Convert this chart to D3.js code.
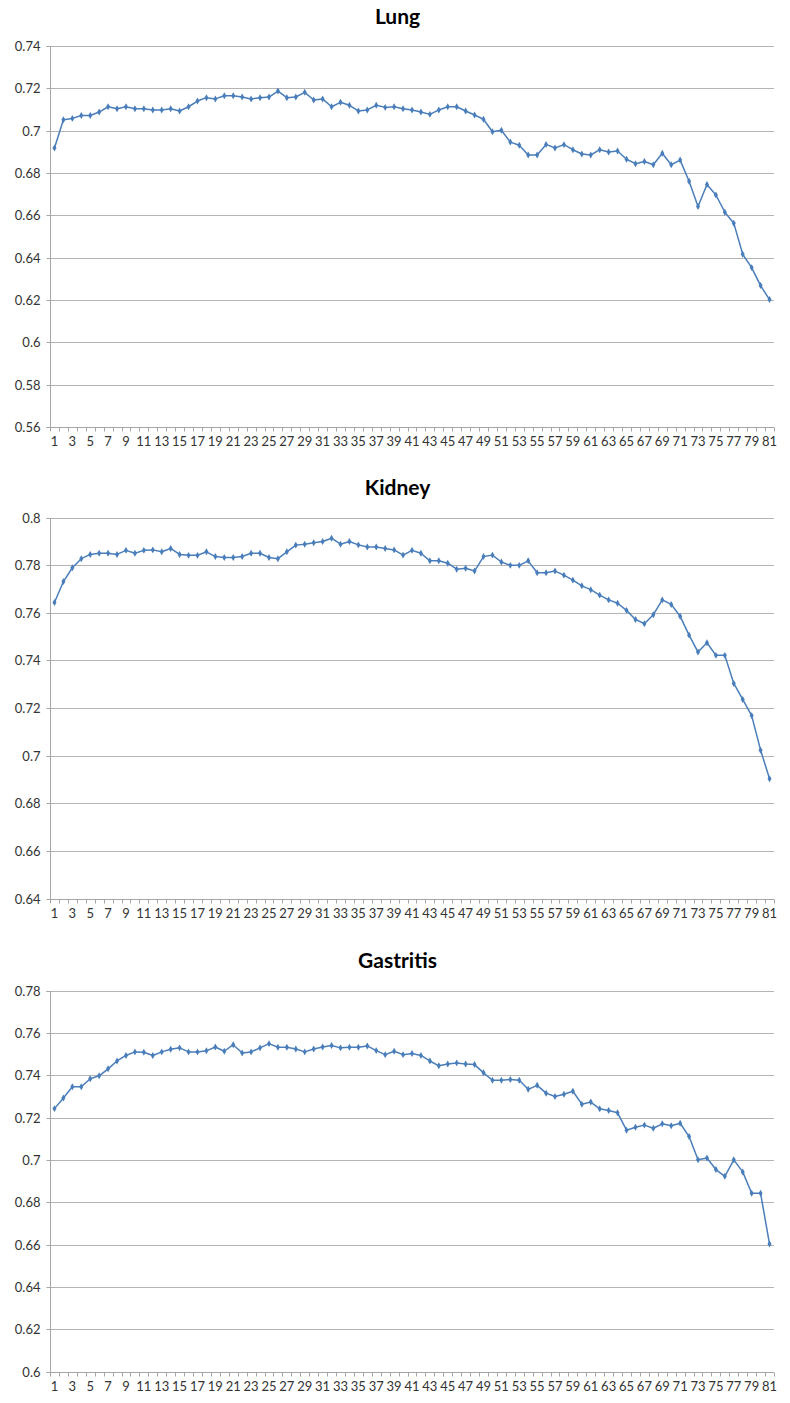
<!DOCTYPE html>
<html>
<head>
<meta charset="utf-8">
<script src="https://cdn.jsdelivr.net/npm/d3@7"></script>
<style>
  html, body { margin: 0; padding: 0; background: #fff; }
  svg { display: block; }
</style>
</head>
<body>
<script>
// ---------- DATA ----------
const categories = Array.from({length: 81}, (_, i) => i + 1);
const xTickLabels = categories.filter(c => c % 2 === 1);

const titles = ["Lung", "Kidney", "Gastritis"];

const lungValues = [
  0.6918, 0.7052, 0.7058, 0.7072, 0.7072, 0.7088, 0.7113, 0.7104, 0.7113, 0.7104,
  0.7104, 0.7098, 0.7098, 0.7104, 0.7093, 0.7113, 0.7140, 0.7156, 0.7150, 0.7165,
  0.7165, 0.7159, 0.7150, 0.7156, 0.7159, 0.7187, 0.7156, 0.7159, 0.7181, 0.7145,
  0.7150, 0.7113, 0.7134, 0.7120, 0.7093, 0.7098, 0.7120, 0.7110, 0.7113, 0.7104,
  0.7098, 0.7088, 0.7077, 0.7098, 0.7113, 0.7113, 0.7093, 0.7074, 0.7054, 0.6995,
  0.7002, 0.6946, 0.6931, 0.6885, 0.6885, 0.6935, 0.6918, 0.6934, 0.6910, 0.6890,
  0.6885, 0.6910, 0.6899, 0.6904, 0.6865, 0.6844, 0.6854, 0.6839, 0.6893, 0.6839,
  0.6861, 0.6761, 0.6642, 0.6746, 0.6696, 0.6615, 0.6563, 0.6416, 0.6353, 0.6268,
  0.6202
];

const kidneyValues = [
  0.7643, 0.7731, 0.7789, 0.7827, 0.7845, 0.7850, 0.7850, 0.7845, 0.7862, 0.7850,
  0.7862, 0.7864, 0.7856, 0.7870, 0.7845, 0.7841, 0.7841, 0.7856, 0.7836, 0.7832,
  0.7832, 0.7836, 0.7850, 0.7850, 0.7832, 0.7827, 0.7856, 0.7884, 0.7888, 0.7894,
  0.7899, 0.7913, 0.7888, 0.7899, 0.7885, 0.7876, 0.7876, 0.7870, 0.7864, 0.7842,
  0.7862, 0.7850, 0.7818, 0.7818, 0.7808, 0.7783, 0.7787, 0.7775, 0.7836, 0.7842,
  0.7813, 0.7799, 0.7799, 0.7818, 0.7768, 0.7768, 0.7775, 0.7758, 0.7737, 0.7713,
  0.7697, 0.7674, 0.7654, 0.7640, 0.7610, 0.7572, 0.7554, 0.7592, 0.7654, 0.7635,
  0.7585, 0.7506, 0.7435, 0.7474, 0.7421, 0.7421, 0.7303, 0.7236, 0.7168, 0.7023,
  0.6903
];

const gastritisValues = [
  0.7242, 0.7292, 0.7345, 0.7345, 0.7383, 0.7397, 0.7430, 0.7467, 0.7493, 0.7510,
  0.7508, 0.7493, 0.7510, 0.7522, 0.7529, 0.7510, 0.7510, 0.7515, 0.7533, 0.7513,
  0.7544, 0.7505, 0.7510, 0.7529, 0.7549, 0.7532, 0.7532, 0.7524, 0.7510, 0.7524,
  0.7533, 0.7540, 0.7529, 0.7532, 0.7532, 0.7538, 0.7516, 0.7497, 0.7513, 0.7497,
  0.7502, 0.7493, 0.7467, 0.7444, 0.7453, 0.7458, 0.7453, 0.7450, 0.7411, 0.7376,
  0.7376, 0.7380, 0.7376, 0.7333, 0.7352, 0.7315, 0.7299, 0.7310, 0.7324, 0.7263,
  0.7273, 0.7241, 0.7233, 0.7222, 0.7140, 0.7154, 0.7164, 0.7149, 0.7170, 0.7161,
  0.7173, 0.7110, 0.7000, 0.7009, 0.6954, 0.6922, 0.7000, 0.6943, 0.6842, 0.6842,
  0.6602
];

const lungTicks = [0.56, 0.58, 0.6, 0.62, 0.64, 0.66, 0.68, 0.7, 0.72, 0.74];
const kidneyTicks = [0.64, 0.66, 0.68, 0.7, 0.72, 0.74, 0.76, 0.78, 0.8];
const gastritisTicks = [0.6, 0.62, 0.64, 0.66, 0.68, 0.7, 0.72, 0.74, 0.76, 0.78];

// ---------- DRAW ----------
const W = 790, H = 1403;
const svg = d3.select("body").append("svg").attr("width", W).attr("height", H);

const panels = [
  {title: titles[0], values: lungValues, ticks: lungTicks, top: 46},
  {title: titles[1], values: kidneyValues, ticks: kidneyTicks, top: 517.5},
  {title: titles[2], values: gastritisValues, ticks: gastritisTicks, top: 990.5}
];

const plotLeft = 50, plotRight = 774, plotH = 381;
const lineColor = "#4a7ebb";
const gridColor = "#b4b4b4";
const axisColor = "#a6a6a6";
const textColor = "#333333";
const font = "Lato, 'Open Sans', sans-serif";

const x = d3.scaleBand().domain(categories).range([plotLeft, plotRight]).paddingInner(0).paddingOuter(0);
const cx = c => x(c) + x.bandwidth() / 2;

panels.forEach(p => {
  const g = svg.append("g");
  const bottom = p.top + plotH;
  const y = d3.scaleLinear().domain(d3.extent(p.ticks)).range([bottom, p.top]);

  // title
  g.append("text")
    .attr("x", 397.5).attr("y", p.top - 22.5)
    .attr("text-anchor", "middle")
    .attr("font-family", font).attr("font-weight", "bold")
    .attr("font-size", 21).attr("fill", "#000")
    .text(p.title);

  // gridlines
  g.append("g").selectAll("line").data(p.ticks.slice(1)).join("line")
    .attr("x1", plotLeft).attr("x2", plotRight)
    .attr("y1", d => Math.round(y(d)) + 0.5).attr("y2", d => Math.round(y(d)) + 0.5)
    .attr("stroke", gridColor).attr("stroke-width", 1);

  // y axis
  const yAxis = d3.axisLeft(y).tickValues(p.ticks).tickSize(4).tickPadding(6)
    .tickFormat(d => String(+d.toFixed(2)));
  const ya = g.append("g").attr("transform", `translate(${plotLeft + 0.5},0.5)`).call(yAxis);
  ya.select(".domain").attr("stroke", axisColor).attr("d", `M-4,${Math.round(bottom)}H0V${Math.round(p.top)}H-4`);
  ya.selectAll(".tick line").attr("stroke", axisColor);
  ya.selectAll(".tick").attr("transform", d => `translate(0,${Math.round(y(d))})`);
  ya.selectAll("text").attr("font-family", font).attr("font-size", 13).attr("fill", textColor);

  // x axis (ticks between categories)
  const xa = g.append("g").attr("transform", `translate(0,${Math.round(bottom) + 0.5})`);
  xa.append("line").attr("x1", plotLeft).attr("x2", plotRight).attr("stroke", axisColor);
  const bounds = categories.map(c => x(c)).concat([plotRight]);
  xa.selectAll("line.tk").data(bounds).join("line").attr("class", "tk")
    .attr("x1", d => Math.round(d) + 0.5).attr("x2", d => Math.round(d) + 0.5)
    .attr("y1", 0).attr("y2", 4).attr("stroke", axisColor);
  xa.selectAll("text").data(xTickLabels).join("text")
    .attr("x", d => cx(d)).attr("y", 18.5)
    .attr("text-anchor", "middle")
    .attr("font-family", font).attr("font-size", 13).attr("fill", textColor)
    .text(d => d);

  // line
  const line = d3.line().x((d, i) => cx(categories[i])).y(d => y(d));
  g.append("path").datum(p.values)
    .attr("d", line).attr("fill", "none")
    .attr("stroke", lineColor).attr("stroke-width", 1.5).attr("stroke-linejoin", "round");

  // markers
  const sym = d3.symbol().type(d3.symbolDiamond).size(14);
  g.append("g").selectAll("path").data(p.values).join("path")
    .attr("transform", (d, i) => `translate(${cx(categories[i])},${y(d)})`)
    .attr("d", sym).attr("fill", lineColor);
});
</script>
</body>
</html>
